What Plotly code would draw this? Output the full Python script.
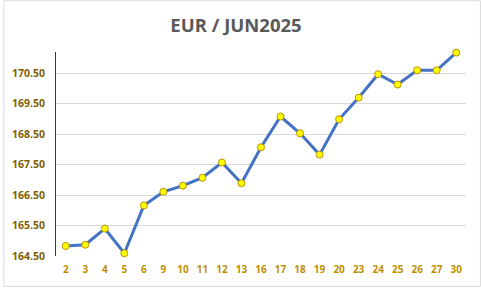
import plotly.graph_objects as go

days = ["2", "3", "4", "5", "6", "9", "10", "11", "12", "13", "16", "17", "18", "19", "20",
        "23", "24", "25", "26", "27", "30"]
values = [164.83, 164.87, 165.40, 164.59, 166.16, 166.61, 166.81, 167.07, 167.57, 166.89,
          168.07, 169.08, 168.53, 167.83, 168.99, 169.70, 170.47, 170.13, 170.60, 170.60, 171.18]
ytick_vals = [164.5, 165.5, 166.5, 167.5, 168.5, 169.5, 170.5]
title_text = "EUR / JUN2025"

W, H = 481, 288
L, R, T, B = 53, 15, 52, 31
pw, ph = W - L - R, H - T - B

fig = go.Figure()
fig.add_trace(go.Scatter(
    x=days, y=values, mode="lines+markers",
    line=dict(color="#4472C4", width=3),
    marker=dict(color="#FFFF00", size=7, line=dict(color="#BF9000", width=1)),
    hoverinfo="skip", showlegend=False, cliponaxis=False,
))

fig.update_layout(
    width=W, height=H,
    margin=dict(l=L, r=R, t=T, b=B),
    paper_bgcolor="white", plot_bgcolor="white",
    font=dict(family="Open Sans, sans-serif"),
    title=dict(text="<b>" + title_text + "</b>", x=236 / W, xanchor="center", y=1 - 26 / H, yanchor="middle",
               xref="container",
               font=dict(size=18.5, color="#595959", family="Open Sans, sans-serif")),
    xaxis=dict(type="category", range=[-0.5, len(days) - 0.5], showgrid=False, showline=False,
               zeroline=False, ticks="", tickfont=dict(size=10, color="#BF9000", family="Open Sans, sans-serif"),
               ticklabelstandoff=6, fixedrange=True),
    yaxis=dict(range=[164.5, 171.2], tickvals=ytick_vals, ticktext=[f"<b>{v:.2f}</b>" for v in ytick_vals],
               showgrid=True, gridcolor="#D9D9D9", gridwidth=1, showline=True, linecolor="#C00000",
               linewidth=1, zeroline=False, ticks="",
               tickfont=dict(size=10.5, color="#7F6000", family="Open Sans, sans-serif"),
               ticklabelstandoff=8, fixedrange=True),
    shapes=[dict(type="rect", xref="paper", yref="paper",
                 x0=(0.5 - L) / pw, x1=(W - 0.5 - L) / pw,
                 y0=(-(B - 0.5)) / ph, y1=(ph + T - 0.5) / ph,
                 line=dict(color="#D9D9D9", width=1), fillcolor="rgba(0,0,0,0)", layer="below")],
)
fig.update_xaxes(ticktext=[f"<b>{d}</b>" for d in days], tickvals=days)
fig.write_html("out.html")
